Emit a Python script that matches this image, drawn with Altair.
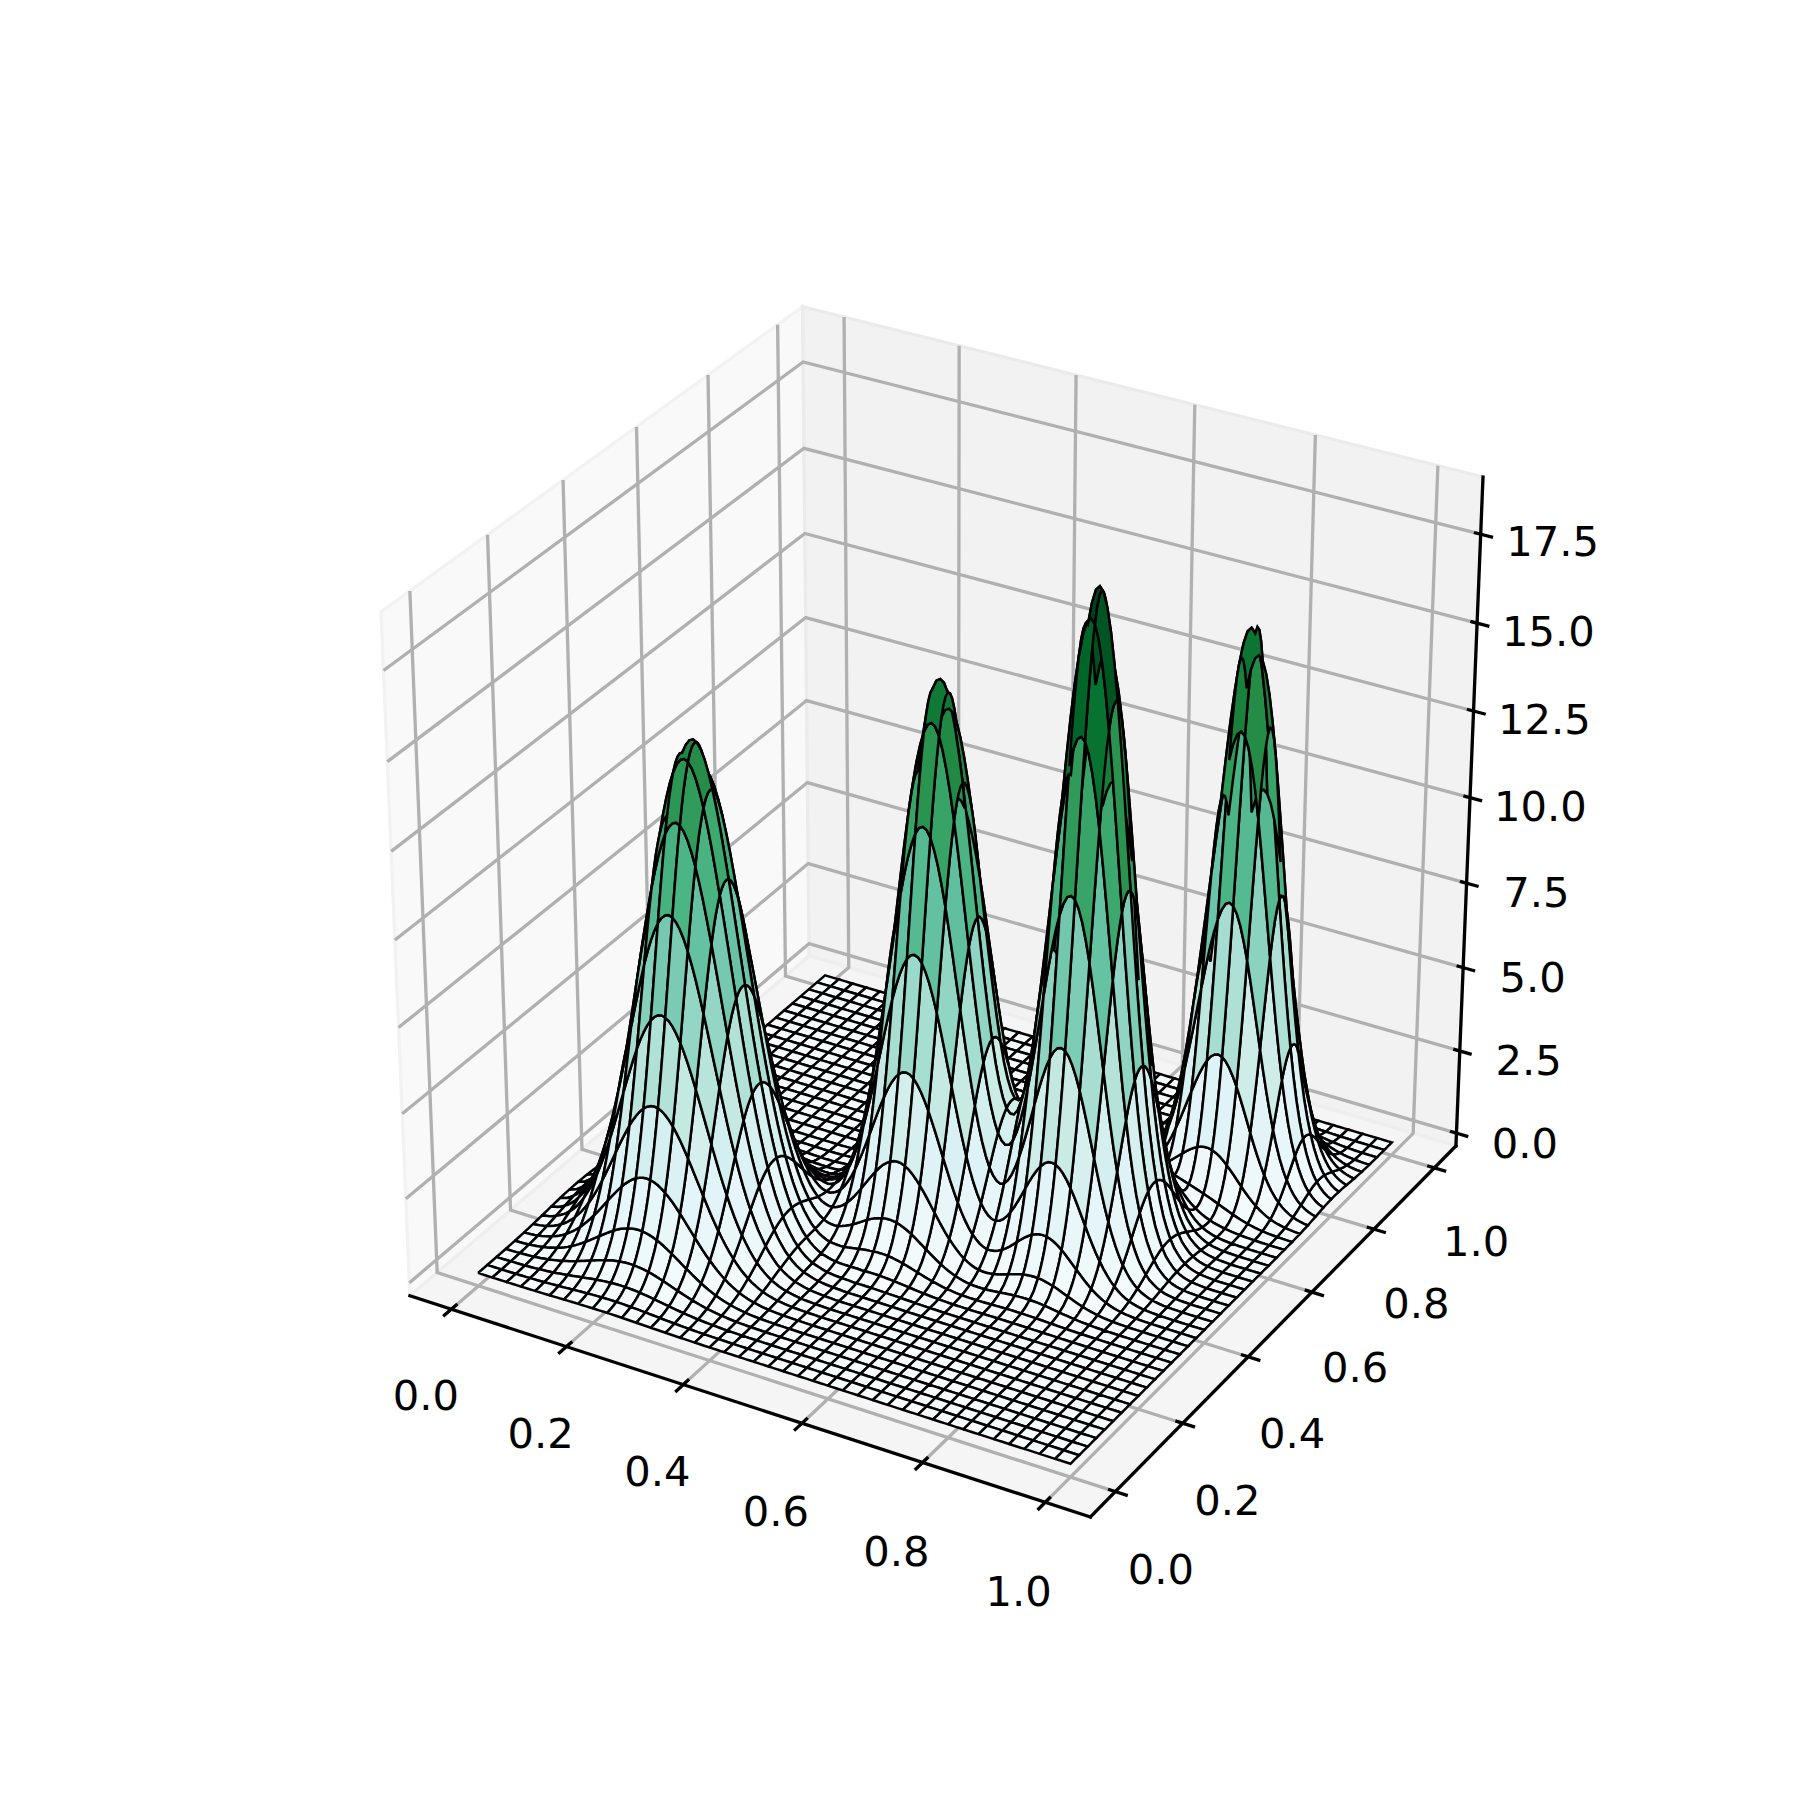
import numpy as np
import pandas as pd
import altair as alt

# Tick values and labels
X_TICKS = [0.0, 0.2, 0.4, 0.6, 0.8, 1.0]
Y_TICKS = [0.0, 0.2, 0.4, 0.6, 0.8, 1.0]
Z_TICKS = [0.0, 2.5, 5.0, 7.5, 10.0, 12.5, 15.0, 17.5]

# The surface: 40 x 40 drawn cells, each side sampled 4 times (so 161 samples per axis)
CELLS = 40
SUB = 4

# Four peaks: centre (in samples) and height
PEAK_CX = [35, 82, 119, 135]
PEAK_CY = [43, 76, 83, 129]
PEAK_H = [14.2, 15.6, 18.9, 16.1]

# Falloff away from a peak centre, one value per sample, estimated from the arches
FALL_A = [1, .992, .969, .932, .882, .823, .755, .682, .607, .531, .458, .389, .325, .267, .216, .172,
          .135, .105, .080, .060, .044, .032, .023, .016, .011, .0076, .0051, .0034, .0022, .0014, .0009]
FALL_B = [1, .993, .972, .938, .893, .838, .775, .707, .635, .563, .492, .424, .360, .302, .249, .203,
          .163, .129, .101, .077, .059, .044, .032, .024, .017, .012, .0083, .0057, .0039, .0026, .0017,
          .0011, .0007]
FALL_C = [1, .995, .979, .952, .917, .873, .823, .767, .707, .644, .581, .519, .458, .400, .345, .295,
          .249, .208, .172, .141, .114, .091, .072, .057, .044, .034, .026, .019, .014, .010, .0076,
          .0054, .0039, .0027, .0019, .0013, .0009]
FALL_D = [1, .995, .982, .959, .929, .891, .847, .797, .744, .688, .630, .572, .514, .458, .404, .353,
          .306, .263, .224, .188, .157, .130, .107, .087, .070, .056, .044, .034, .027, .020, .016,
          .012, .0088, .0065, .0048, .0035, .0025, .0018, .0013, .0009]
FALL_E = [1, .996, .983, .962, .934, .898, .857, .811, .760, .707, .651, .595, .539, .485, .432, .381,
          .334, .290, .249, .213, .180, .151, .126, .104, .085, .069, .055, .044, .035, .027, .021,
          .016, .012, .0094, .0070, .0052, .0039, .0028, .0021, .0015, .0011]
FALL_F = [1, .996, .985, .967, .942, .911, .875, .834, .788, .740, .690, .638, .586, .534, .483, .433,
          .386, .342, .300, .261, .226, .194, .166, .140, .118, .098, .081, .067, .054, .044, .035,
          .028, .022, .017, .014, .011, .0081, .0062, .0047, .0035, .0026, .0019, .0014, .0010]
FALL_G = [1, .997, .988, .973, .952, .927, .896, .861, .823, .781, .737, .691, .644, .597, .550, .503,
          .458, .414, .372, .332, .295, .260, .228, .199, .172, .148, .127, .108, .091, .077, .064,
          .053, .044, .036, .029, .024, .019, .015, .012, .0096, .0076, .0059, .0046, .0035, .0027,
          .0021, .0016, .0012, .0009]
FALLS_X = [FALL_F, FALL_C, FALL_B, FALL_A]
FALLS_Y = [FALL_G, FALL_E, FALL_D, FALL_A]

BUGN = ["#f7fcfd", "#e5f5f9", "#ccece6", "#99d8c9", "#66c2a4", "#41ae76", "#238b45", "#006d2c", "#00441b"]

Z_TOP = 18.7
# Pane limits of the box
XR = (-0.0729, 1.0729)
YR = (-0.0729, 1.0729)
ZR = (-Z_TOP / 48, Z_TOP * 49 / 48)


def build_projection(elev=30.0, azim=-60.0, dist=10.0):
    asp = np.array([1.0, 1.0, 1.0]) * 25 / 24
    dx, dy, dz = XR[1] - XR[0], YR[1] - YR[0], ZR[1] - ZR[0]
    world = np.array([
        [asp[0] / dx, 0, 0, -XR[0] * asp[0] / dx],
        [0, asp[1] / dy, 0, -YR[0] * asp[1] / dy],
        [0, 0, asp[2] / dz, -ZR[0] * asp[2] / dz],
        [0, 0, 0, 1.0]])
    e, a = np.radians(elev), np.radians(azim)
    ps = np.array([np.cos(e) * np.cos(a), np.cos(e) * np.sin(a), np.sin(e)])
    R = asp / 2
    eye = R + dist * ps
    w = (eye - R) / np.linalg.norm(eye - R)
    u = np.cross([0, 0, 1.0], w)
    u = u / np.linalg.norm(u)
    v = np.cross(w, u)
    Mr = np.eye(4)
    Mt = np.eye(4)
    Mr[:3, :3] = np.array([u, v, w])
    Mt[:3, 3] = -eye
    view = Mr @ Mt
    persp = np.array([[1.0, 0, 0, 0], [0, 1.0, 0, 0], [0, 0, 0, -dist], [0, 0, -1.0, 0]])
    return persp @ view @ world


M = build_projection()


def project(x, y, z):
    p = M @ np.vstack([np.ravel(x), np.ravel(y), np.ravel(z), np.ones(np.size(x))])
    return p[0] / p[3], p[1] / p[3], p[2] / p[3]


# Surface values, looked up from the tables above
N = CELLS * SUB + 1
coords = np.arange(N) / (N - 1)


def lookup(c, table):
    out = np.zeros(N)
    for i in range(N):
        d = abs(i - c)
        if d < len(table):
            out[i] = table[d]
    return out


Z = np.zeros((N, N))
for cx, cy, h, fx, fy in zip(PEAK_CX, PEAK_CY, PEAK_H, FALLS_X, FALLS_Y):
    Z += h * np.outer(lookup(cx, fx), lookup(cy, fy))

# Cells, painted far to near, each outline following the samples along its sides
quads = []
for ci in range(CELLS):
    for cj in range(CELLS):
        i0, i1, j0, j1 = ci * SUB, (ci + 1) * SUB, cj * SUB, (cj + 1) * SUB
        idx = ([(i, j0) for i in range(i0, i1)] + [(i1, j) for j in range(j0, j1)]
               + [(i, j1) for i in range(i1, i0, -1)] + [(i0, j) for j in range(j1, j0, -1)]
               + [(i0, j0)])
        ii = np.array([p[0] for p in idx])
        jj = np.array([p[1] for p in idx])
        zz = Z[ii, jj]
        u_, v_, t_ = project(coords[ii], coords[jj], zz)
        quads.append((t_[:-1].mean(), zz[:-1].mean(), u_, v_))
quads.sort(key=lambda q: q[0], reverse=True)
rows = []
for k, (_, mz, u_, v_) in enumerate(quads):
    for n in range(len(u_)):
        rows.append({"k": k, "n": n, "u": round(float(u_[n]), 6), "v": round(float(v_[n]), 6), "z": round(float(mz), 3)})
surface = pd.DataFrame(rows)
zlo, zhi = float(surface.z.min()), float(surface.z.max())


def path_rows(paths):
    out = []
    for k, pts in enumerate(paths):
        a = np.array(pts, dtype=float)
        u_, v_, _ = project(a[:, 0], a[:, 1], a[:, 2])
        for n in range(len(pts)):
            out.append({"k": k, "n": n, "u": float(u_[n]), "v": float(v_[n])})
    return pd.DataFrame(out)


x0, x1 = XR
y0, y1 = YR
z0, z1 = ZR

panes = [
    ([(x0, y0, z0), (x0, y1, z0), (x0, y1, z1), (x0, y0, z1), (x0, y0, z0)], "#f9f9f9", "#f2f2f2"),
    ([(x0, y1, z0), (x1, y1, z0), (x1, y1, z1), (x0, y1, z1), (x0, y1, z0)], "#f2f2f2", "#ebebeb"),
    ([(x0, y0, z0), (x1, y0, z0), (x1, y1, z0), (x0, y1, z0), (x0, y0, z0)], "#f5f5f5", "#eeeeee"),
]
grid_paths = []
for t in X_TICKS:
    grid_paths.append([(t, y0, z0), (t, y1, z0), (t, y1, z1)])
for t in Y_TICKS:
    grid_paths.append([(x1, t, z0), (x0, t, z0), (x0, t, z1)])
for t in Z_TICKS:
    grid_paths.append([(x0, y0, t), (x0, y1, t), (x1, y1, t)])
axis_paths = [
    [(x0, y0, z0), (x1, y0, z0)],
    [(x1, y0, z0), (x1, y1, z0)],
    [(x1, y1, z0), (x1, y1, z1)],
]
tick_paths = []
for t in X_TICKS:
    tick_paths.append([(t, y0 + 0.016, z0), (t, y0 - 0.022, z0)])
for t in Y_TICKS:
    tick_paths.append([(x1 - 0.012, t, z0), (x1 + 0.02, t, z0)])
for t in Z_TICKS:
    tick_paths.append([(x1 - 0.011, y1, t), (x1 + 0.02, y1, t)])

labels = []
for t in X_TICKS:
    lu, lv, _ = project([t], [y0 - 0.075], [z0 - 1.9])
    labels.append({"u": float(lu[0]), "v": float(lv[0]), "t": f"{t:.1f}"})
for t in Y_TICKS:
    lu, lv, _ = project([x1 + 0.075], [t], [z0 - 1.9])
    labels.append({"u": float(lu[0]), "v": float(lv[0]), "t": f"{t:.1f}"})
for t in Z_TICKS:
    lu, lv, _ = project([x1 + 0.115], [y1], [t + 0.25])
    labels.append({"u": float(lu[0]), "v": float(lv[0]), "t": f"{t:.1f}"})
label_df = pd.DataFrame(labels)

# Axes box of the figure, in page pixels
BOX_L, BOX_B, BOX_W, BOX_H = 225.0, 1602.0, 1395.0, 1386.0
W0, W1 = -0.095, 0.09


def u_at(px):
    return W0 + (px - BOX_L) / BOX_W * (W1 - W0)


def v_at(py):
    return W0 + (BOX_B - py) / BOX_H * (W1 - W0)


ux = alt.X("u:Q", axis=None, scale=alt.Scale(domain=[u_at(8), u_at(1792)], nice=False, zero=False))
vy = alt.Y("v:Q", axis=None, scale=alt.Scale(domain=[v_at(1792), v_at(8)], nice=False, zero=False))

alt.data_transformers.disable_max_rows()

layers = []
for pts, fill, edge in panes:
    layers.append(
        alt.Chart(path_rows([pts])).mark_line(fill=fill, stroke=edge, strokeWidth=3.3)
        .encode(x=ux, y=vy, order="n:Q", detail="k:N"))
layers.append(
    alt.Chart(path_rows(grid_paths)).mark_line(stroke="#b0b0b0", strokeWidth=3.3, strokeJoin="miter")
    .encode(x=ux, y=vy, order="n:Q", detail="k:N"))
layers.append(
    alt.Chart(path_rows(axis_paths)).mark_line(stroke="black", strokeWidth=3.3, strokeCap="square")
    .encode(x=ux, y=vy, order="n:Q", detail="k:N"))
layers.append(
    alt.Chart(path_rows(tick_paths)).mark_line(stroke="black", strokeWidth=3.3)
    .encode(x=ux, y=vy, order="n:Q", detail="k:N"))
layers.append(
    alt.Chart(surface).mark_line(stroke="black", strokeWidth=2.5, strokeJoin="miter")
    .encode(x=ux, y=vy, order="n:Q", detail="k:N",
            fill=alt.Fill("z:Q", legend=None,
                          scale=alt.Scale(domain=list(np.linspace(zlo, zhi, 9)), range=BUGN, clamp=True))))
layers.append(
    alt.Chart(label_df).mark_text(font="DejaVu Sans", fontSize=41.67, color="black",
                                  align="center", baseline="middle")
    .encode(x=ux, y=vy, text="t:N"))

chart = alt.layer(*layers).properties(
    width=1784, height=1784, padding=0, autosize=alt.AutoSizeParams(type="none"),
    background="white"
).configure_view(stroke=None)

chart.save("out.html", embed_options={"renderer": "svg", "actions": False})
